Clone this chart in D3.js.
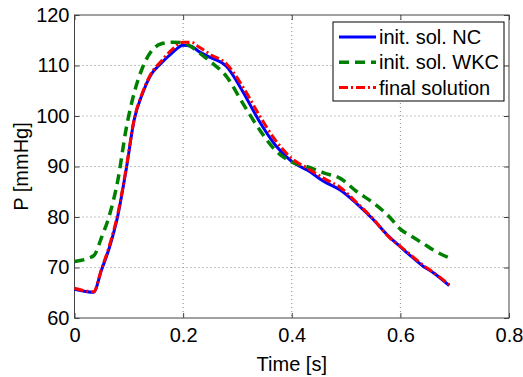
<!DOCTYPE html>
<html>
<head>
<meta charset="utf-8">
<script src="https://cdn.jsdelivr.net/npm/d3@7"></script>
<style>
  body { margin: 0; background: #fff; }
  svg { display: block; font-family: "Liberation Sans", Arial, sans-serif; }
</style>
</head>
<body>
<figure id="chart" style="margin:0"></figure>
<script>
// time samples [s]
const time = [0, 0.035, 0.05, 0.065, 0.08, 0.095, 0.11, 0.125, 0.14, 0.16, 0.18, 0.2, 0.215, 0.23, 0.25, 0.28,
  0.31, 0.34, 0.37, 0.4, 0.43, 0.46, 0.49, 0.52, 0.55, 0.58, 0.6, 0.62, 0.64, 0.66, 0.69];

// pressure [mmHg]
const nc = [65.7, 65.1, 69.6, 74.2, 80.4, 89.3, 99.3, 104.4, 108.0, 110.5, 112.5, 114.0, 113.8, 112.7, 111.6, 109.8,
  104.8, 99.0, 94.2, 91.0, 89.2, 87.0, 85.3, 82.6, 79.5, 76.0, 74.1, 72.2, 70.4, 69.0, 66.4];
const wkc = [71.2, 72.3, 76.0, 80.6, 87.4, 97.4, 104.6, 109.5, 112.6, 114.3, 114.6, 114.5, 113.7, 112.5, 110.8, 107.8,
  102.5, 97.4, 93.2, 90.9, 89.9, 88.7, 87.6, 85.0, 82.8, 80.0, 77.6, 76.2, 74.9, 73.5, 71.9];
const finalSol = [65.9, 65.2, 69.8, 74.6, 80.8, 89.6, 99.4, 104.6, 108.2, 110.9, 113.2, 114.6, 114.6, 113.6, 112.2, 110.3,
  105.8, 100.2, 95.2, 91.6, 89.6, 87.6, 85.8, 82.8, 79.6, 75.9, 74.2, 72.4, 70.6, 69.1, 66.6];

const xTicks = [0, 0.2, 0.4, 0.6, 0.8];
const yTicks = [60, 70, 80, 90, 100, 110, 120];
const legendLabels = ["init. sol. NC", "init. sol. WKC", "final solution"];

const width = 523, height = 377;
const margin = { top: 15, right: 14, bottom: 59, left: 74.5 };
const w = width - margin.left - margin.right;
const h = height - margin.top - margin.bottom;
const fontSize = "20px";

const svg = d3.select("figure#chart")
  .append("svg")
  .attr("width", width)
  .attr("height", height);

const g = svg.append("g")
  .attr("transform", "translate(" + margin.left + "," + margin.top + ")");

const x = d3.scaleLinear().domain([0, 0.8]).range([0, w]);
const y = d3.scaleLinear().domain([60, 120]).range([h, 0]);

// grid
g.append("g")
  .selectAll("line")
  .data(xTicks.slice(1, -1))
  .join("line")
  .attr("x1", d => x(d)).attr("x2", d => x(d))
  .attr("y1", 0).attr("y2", h)
  .attr("stroke", "#888").attr("stroke-width", 1)
  .attr("stroke-dasharray", "1,3");

g.append("g")
  .selectAll("line")
  .data(yTicks.slice(1, -1))
  .join("line")
  .attr("y1", d => y(d)).attr("y2", d => y(d))
  .attr("x1", 0).attr("x2", w)
  .attr("stroke", "#888").attr("stroke-width", 1)
  .attr("stroke-dasharray", "1,3");

// axes, ticks pointing inward like matlab
const fmt = d => d === 0 ? "0" : String(d);
const axisStyle = sel => {
  sel.select(".domain").remove();
  sel.selectAll(".tick line").attr("stroke", "#444");
  sel.selectAll(".tick text").attr("fill", "#000").style("font-size", fontSize);
};

g.append("g")
  .attr("transform", "translate(0," + h + ")")
  .call(d3.axisBottom(x).tickValues(xTicks).tickFormat(fmt).tickSizeInner(-5).tickPadding(10))
  .call(axisStyle);

g.append("g")
  .call(d3.axisTop(x).tickValues(xTicks).tickFormat("").tickSizeInner(-5))
  .call(axisStyle);

g.append("g")
  .call(d3.axisLeft(y).tickValues(yTicks).tickSizeInner(-5).tickPadding(5))
  .call(axisStyle);

g.append("g")
  .attr("transform", "translate(" + w + ",0)")
  .call(d3.axisRight(y).tickValues(yTicks).tickFormat("").tickSizeInner(-5))
  .call(axisStyle);

g.append("rect")
  .attr("width", w).attr("height", h)
  .attr("fill", "none").attr("stroke", "#444").attr("stroke-width", 1);

// series
const series = [
  { values: nc, color: "#0000ff", dash: null, width: 3 },
  { values: wkc, color: "#008000", dash: "10,6", width: 3.5 },
  { values: finalSol, color: "#ff0000", dash: "9,3,2,3", width: 3 }
];

const line = d3.line()
  .x(d => x(d[0]))
  .y(d => y(d[1]))
  .curve(d3.curveMonotoneX);

series.forEach(s => {
  g.append("path")
    .datum(time.map((t, i) => [t, s.values[i]]))
    .attr("fill", "none")
    .attr("stroke", s.color)
    .attr("stroke-width", s.width)
    .attr("stroke-dasharray", s.dash)
    .attr("d", line);
});

// legend
const lg = svg.append("g").attr("transform", "translate(333,22)");
lg.append("rect")
  .attr("width", 171).attr("height", 79)
  .attr("fill", "#fff").attr("stroke", "#000").attr("stroke-width", 1);

series.forEach((s, i) => {
  const yy = 15 + i * 25.3;
  lg.append("line")
    .attr("x1", 6).attr("x2", 43)
    .attr("y1", yy).attr("y2", yy)
    .attr("stroke", s.color)
    .attr("stroke-width", s.width)
    .attr("stroke-dasharray", s.dash);
  lg.append("text")
    .attr("x", 46).attr("y", yy)
    .attr("dy", "0.35em")
    .style("font-size", fontSize)
    .text(legendLabels[i]);
});

// axis labels
svg.append("text")
  .attr("x", margin.left + w / 2).attr("y", 371)
  .attr("text-anchor", "middle")
  .style("font-size", fontSize)
  .text("Time [s]");

svg.append("text")
  .attr("transform", "translate(28," + (margin.top + h / 2) + ") rotate(-90)")
  .attr("text-anchor", "middle")
  .style("font-size", fontSize)
  .text("P [mmHg]");
</script>
</body>
</html>
